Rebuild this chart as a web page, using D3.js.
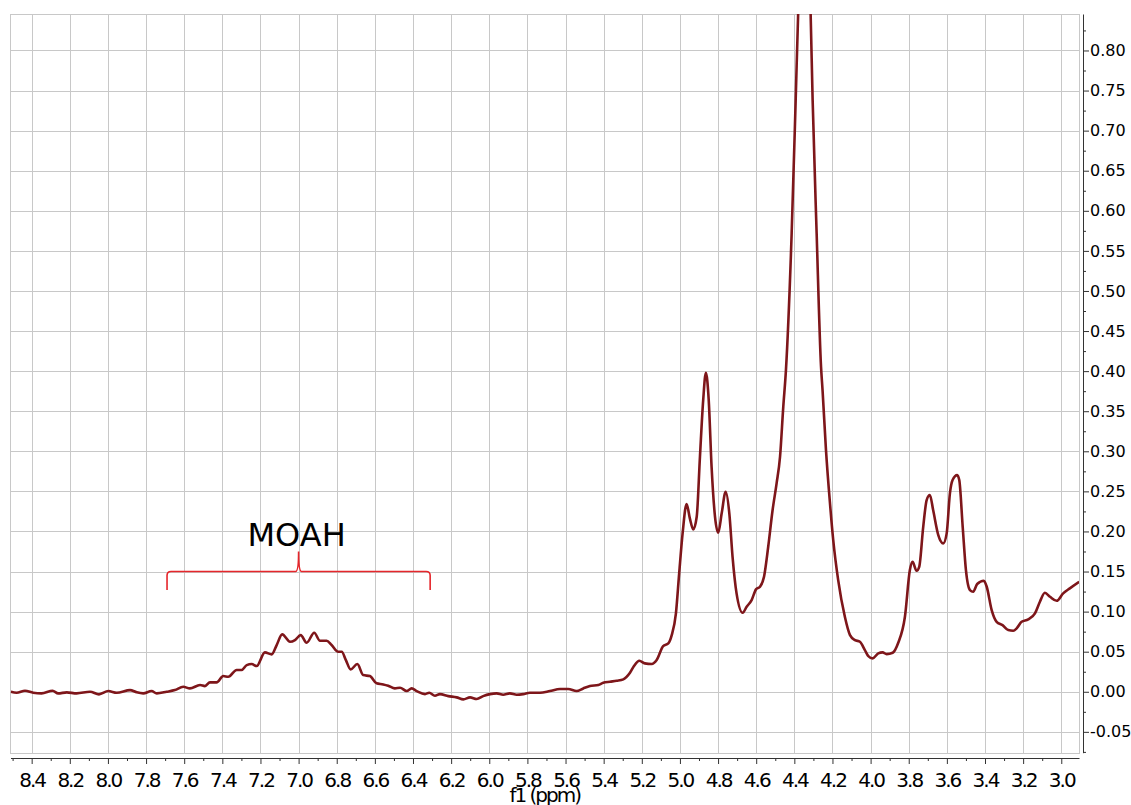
<!DOCTYPE html>
<html>
<head>
<meta charset="utf-8">
<script src="https://cdn.jsdelivr.net/npm/d3@7/dist/d3.min.js"></script>
<style>
  html, body { margin: 0; padding: 0; background: #fff; }
  svg { display: block; }
</style>
</head>
<body>
<svg id="chart" width="1131" height="805"></svg>
<script>
// ---- data ----
const ppm = [
  8.509, 8.479, 8.435, 8.392, 8.348, 8.290, 8.261, 8.216, 8.164, 8.094,
  8.047, 7.998, 7.954, 7.884, 7.849, 7.815, 7.771, 7.744, 7.692, 7.649,
  7.605, 7.570, 7.517, 7.491, 7.465, 7.430, 7.395, 7.369, 7.325, 7.299,
  7.272, 7.246, 7.220, 7.177, 7.141, 7.115, 7.086, 7.045, 7.019, 6.989,
  6.958, 6.918, 6.888, 6.853, 6.827, 6.792, 6.774, 6.752, 6.727, 6.692,
  6.661, 6.626, 6.591, 6.556, 6.530, 6.495, 6.468, 6.433, 6.407, 6.381,
  6.337, 6.315, 6.285, 6.259, 6.215, 6.171, 6.136, 6.101, 6.066, 6.032,
  5.996, 5.961, 5.927, 5.892, 5.856, 5.822, 5.787, 5.734, 5.682, 5.629,
  5.586, 5.542, 5.507, 5.472, 5.428, 5.402, 5.367, 5.332, 5.297, 5.262,
  5.241, 5.213, 5.184, 5.148, 5.122, 5.088, 5.061, 5.043, 5.021, 5.004,
  4.986, 4.965, 4.948, 4.930, 4.912, 4.895, 4.878, 4.864, 4.849, 4.834,
  4.816, 4.799, 4.781, 4.760, 4.741, 4.724, 4.703, 4.671, 4.650, 4.624,
  4.601, 4.580, 4.559, 4.537, 4.514, 4.493, 4.475, 4.458, 4.444, 4.414,
  4.393, 4.380, 4.347, 4.3145, 4.304, 4.283, 4.260, 4.252, 4.234, 4.213,
  4.196, 4.170, 4.135, 4.108, 4.082, 4.056, 4.030, 4.012, 3.989, 3.960,
  3.937, 3.916, 3.884, 3.855, 3.820, 3.794, 3.780, 3.759, 3.745, 3.724,
  3.706, 3.689, 3.672, 3.645, 3.619, 3.601, 3.584, 3.570, 3.546, 3.535,
  3.517, 3.500, 3.479, 3.462, 3.441, 3.406, 3.391, 3.365, 3.339, 3.308,
  3.278, 3.252, 3.234, 3.208, 3.173, 3.138, 3.112, 3.086, 3.059, 3.024,
  2.990, 2.955, 2.906
];
const intensity = [
  0.0000, -0.0012, 0.0012, -0.0012, -0.0020, 0.0012, -0.0020, -0.0007, -0.0020, 0.0000,
  -0.0032, 0.0009, -0.0012, 0.0021, -0.0007, -0.0020, 0.0009, -0.0020, 0.0000, 0.0021,
  0.0062, 0.0042, 0.0084, 0.0071, 0.0117, 0.0117, 0.0196, 0.0187, 0.0271, 0.0271,
  0.0333, 0.0346, 0.0321, 0.0492, 0.0467, 0.0583, 0.0716, 0.0624, 0.0645, 0.0707,
  0.0611, 0.0736, 0.0636, 0.0636, 0.0583, 0.0499, 0.0499, 0.0395, 0.0279, 0.0346,
  0.0208, 0.0196, 0.0105, 0.0092, 0.0075, 0.0042, 0.0050, 0.0009, 0.0042, 0.0009,
  -0.0029, -0.0012, -0.0050, -0.0029, -0.0054, -0.0070, -0.0095, -0.0070, -0.0091, -0.0054,
  -0.0029, -0.0020, -0.0037, -0.0020, -0.0037, -0.0029, -0.0012, -0.0012, 0.0009, 0.0034,
  0.0034, 0.0009, 0.0042, 0.0071, 0.0084, 0.0112, 0.0125, 0.0137, 0.0155, 0.0237,
  0.0321, 0.0387, 0.0354, 0.0346, 0.0395, 0.0570, 0.0604, 0.0707, 0.0978, 0.1477,
  0.1976, 0.2342, 0.2163, 0.2026, 0.2183, 0.2932, 0.3639, 0.3980, 0.3639, 0.2807,
  0.2183, 0.1984, 0.2226, 0.2495, 0.2226, 0.1684, 0.1228, 0.0986, 0.1060, 0.1144,
  0.1277, 0.1310, 0.1435, 0.1809, 0.2267, 0.2600, 0.2932, 0.3555, 0.4013, 0.5719,
  0.7381, 0.8454, 1.0500, 0.8454, 0.7381, 0.5719, 0.4054, 0.3764, 0.3015, 0.2350,
  0.1892, 0.1393, 0.0936, 0.0707, 0.0645, 0.0624, 0.0520, 0.0445, 0.0417, 0.0479,
  0.0492, 0.0470, 0.0487, 0.0611, 0.0936, 0.1518, 0.1622, 0.1509, 0.1559, 0.2058,
  0.2391, 0.2454, 0.2267, 0.1955, 0.1851, 0.1976, 0.2475, 0.2641, 0.2703, 0.2641,
  0.2058, 0.1518, 0.1269, 0.1248, 0.1344, 0.1385, 0.1310, 0.1019, 0.0873, 0.0832,
  0.0770, 0.0761, 0.0791, 0.0873, 0.0903, 0.0978, 0.1123, 0.1235, 0.1185, 0.1135,
  0.1228, 0.1290, 0.1372
];
const xTickValues = [8.4, 8.2, 8.0, 7.8, 7.6, 7.4, 7.2, 7.0, 6.8, 6.6, 6.4, 6.2, 6.0, 5.8, 5.6, 5.4, 5.2, 5.0, 4.8, 4.6, 4.4, 4.2, 4.0, 3.8, 3.6, 3.4, 3.2, 3.0];
const xTickLabels = ["8.4", "8.2", "8.0", "7.8", "7.6", "7.4", "7.2", "7.0", "6.8", "6.6", "6.4", "6.2", "6.0", "5.8", "5.6", "5.4", "5.2", "5.0", "4.8", "4.6", "4.4", "4.2", "4.0", "3.8", "3.6", "3.4", "3.2", "3.0"];
const xMinorTicks = [8.5, 8.3, 8.1, 7.9, 7.7, 7.5, 7.3, 7.1, 6.9, 6.7, 6.5, 6.3, 6.1, 5.9, 5.7, 5.5, 5.3, 5.1, 4.9, 4.7, 4.5, 4.3, 4.1, 3.9, 3.7, 3.5, 3.3, 3.1];
const yTickValues = [-0.05, 0.00, 0.05, 0.10, 0.15, 0.20, 0.25, 0.30, 0.35, 0.40, 0.45, 0.50, 0.55, 0.60, 0.65, 0.70, 0.75, 0.80];
const yTickLabels = ["-0.05", "0.00", "0.05", "0.10", "0.15", "0.20", "0.25", "0.30", "0.35", "0.40", "0.45", "0.50", "0.55", "0.60", "0.65", "0.70", "0.75", "0.80"];
const yMinorTicks = [-0.075, -0.025, 0.025, 0.075, 0.125, 0.175, 0.225, 0.275, 0.325, 0.375, 0.425, 0.475, 0.525, 0.575, 0.625, 0.675, 0.725, 0.775, 0.825];
const xLabel = "f1 (ppm)";
const annotationLabel = "MOAH";
const bracketFrom = 7.69, bracketTo = 6.31, bracketMid = 7.0;
const bracketLevel = 0.150, bracketEnd = 0.127, bracketTip = 0.175, annotationBase = 0.182;

// ---- layout ----
const svg = d3.select("#chart");
const plot = { left: 10.5, right: 1079, top: 14, bottom: 752.7 };
const x = d3.scaleLinear().domain([8.511, 2.907]).range([plot.left, plot.right]);
const y = d3.scaleLinear().domain([-0.076, 0.8455]).range([plot.bottom, plot.top]);
const gridColor = "#c8c8c8";

// grid
const grid = svg.append("g").attr("shape-rendering", "crispEdges");
grid.selectAll("line.v").data(xTickValues).join("line")
  .attr("x1", d => Math.round(x(d)) + 0.5).attr("x2", d => Math.round(x(d)) + 0.5)
  .attr("y1", plot.top).attr("y2", plot.bottom)
  .attr("stroke", gridColor).attr("stroke-width", 1);
grid.selectAll("line.h").data(yTickValues).join("line")
  .attr("y1", d => Math.round(y(d)) + 0.5).attr("y2", d => Math.round(y(d)) + 0.5)
  .attr("x1", plot.left).attr("x2", plot.right)
  .attr("stroke", gridColor).attr("stroke-width", 1);
grid.append("rect")
  .attr("x", plot.left).attr("y", plot.top + 0.5)
  .attr("width", plot.right - plot.left).attr("height", plot.bottom - plot.top)
  .attr("fill", "none").attr("stroke", gridColor).attr("stroke-width", 1);

// clip
svg.append("defs").append("clipPath").attr("id", "clip")
  .append("rect").attr("x", plot.left).attr("y", plot.top)
  .attr("width", plot.right - plot.left).attr("height", plot.bottom - plot.top);

// spectrum
const pts = ppm.map((p, i) => [p, intensity[i]]);
const line = d3.line().x(d => x(d[0])).y(d => y(d[1])).curve(d3.curveMonotoneX);
svg.append("path").datum(pts)
  .attr("clip-path", "url(#clip)")
  .attr("d", line)
  .attr("fill", "none").attr("stroke", "#7e161a")
  .attr("stroke-width", 2.6).attr("stroke-linejoin", "round");

// bracket annotation
const bx0 = x(bracketFrom), bx1 = x(bracketTo), bxm = x(bracketMid);
const by = y(bracketLevel), bye = y(bracketEnd), byt = y(bracketTip);
const r = 4;
const bp = d3.path();
bp.moveTo(bx0, bye);
bp.lineTo(bx0, by + r);
bp.quadraticCurveTo(bx0, by, bx0 + r, by);
bp.lineTo(bxm - 3, by);
bp.quadraticCurveTo(bxm, by, bxm, byt);
bp.quadraticCurveTo(bxm, by, bxm + 3, by);
bp.lineTo(bx1 - r, by);
bp.quadraticCurveTo(bx1, by, bx1, by + r);
bp.lineTo(bx1, bye);
svg.append("path").attr("d", bp.toString())
  .attr("fill", "none").attr("stroke", "#e5262b").attr("stroke-width", 1.6);

svg.append("text")
  .attr("x", bxm - 2).attr("y", y(annotationBase))
  .attr("text-anchor", "middle")
  .attr("font-family", "DejaVu Sans").attr("font-size", 32)
  .attr("fill", "#000").text(annotationLabel);

// bottom axis
const axisColor = "#333";
const xAxisY = plot.bottom + 5.3;
const gx = svg.append("g").attr("transform", `translate(0,${xAxisY})`);
gx.call(d3.axisBottom(x).tickValues(xTickValues)
  .tickFormat((d, i) => xTickLabels[i]).tickSize(6).tickSizeOuter(0));
gx.select(".domain").attr("stroke", axisColor);
gx.selectAll(".tick line").attr("stroke", axisColor);
gx.selectAll(".tick text")
  .attr("y", 28.7).attr("dy", 0)
  .attr("font-family", "DejaVu Sans").attr("font-size", 20)
  .attr("letter-spacing", "-2px").attr("fill", "#000");
const gxm = svg.append("g").attr("transform", `translate(0,${xAxisY})`);
gxm.call(d3.axisBottom(x).tickValues(xMinorTicks).tickFormat("").tickSize(3).tickSizeOuter(0));
gxm.select(".domain").remove();
gxm.selectAll(".tick line").attr("stroke", axisColor);

svg.append("text")
  .attr("x", (plot.left + plot.right) / 2).attr("y", xAxisY + 44)
  .attr("text-anchor", "middle")
  .attr("font-family", "DejaVu Sans").attr("font-size", 20)
  .attr("letter-spacing", "-2px").attr("fill", "#000").text(xLabel);

// right axis
const yAxisX = plot.right + 4;
const gy = svg.append("g").attr("transform", `translate(${yAxisX},0)`);
gy.call(d3.axisRight(y).tickValues(yTickValues)
  .tickFormat((d, i) => yTickLabels[i]).tickSize(6).tickSizeOuter(0).tickPadding(1));
gy.select(".domain").attr("stroke", axisColor);
gy.selectAll(".tick line").attr("stroke", axisColor);
gy.selectAll(".tick text")
  .attr("font-family", "DejaVu Sans").attr("font-size", 16).attr("fill", "#000");
const gym = svg.append("g").attr("transform", `translate(${yAxisX},0)`);
gym.call(d3.axisRight(y).tickValues(yMinorTicks).tickFormat("").tickSize(3).tickSizeOuter(0));
gym.select(".domain").remove();
gym.selectAll(".tick line").attr("stroke", axisColor);
</script>
</body>
</html>
